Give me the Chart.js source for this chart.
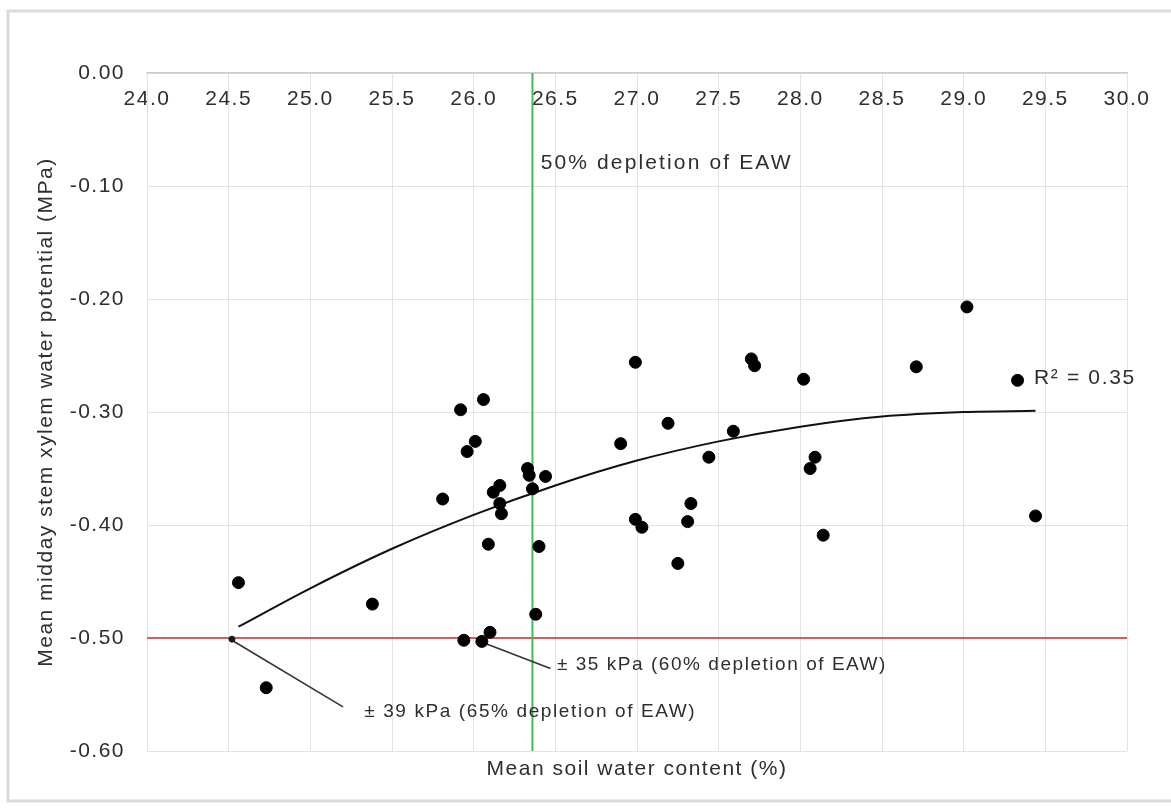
<!DOCTYPE html>
<html><head><meta charset="utf-8">
<script src="https://cdn.jsdelivr.net/npm/chart.js@4/dist/chart.umd.min.js"></script>
<style>html,body{margin:0;padding:0;background:#fff}canvas{display:block}</style>
</head><body>
<canvas id="c" width="1171" height="811"></canvas>
<script>
// ---- data ----
const soilWater = [24.56,24.73,25.38,25.81,25.92,26.06,26.01,25.96,26.33,26.34,26.44,26.36,26.16,26.12,26.16,26.17,26.09,26.40,26.38,26.10,25.94,26.05,26.99,27.19,26.90,27.70,27.72,28.02,27.59,27.44,28.09,28.06,26.99,27.03,27.33,27.31,27.25,28.14,28.71,29.02,29.33,29.44];
const stemPotential = [-0.451,-0.544,-0.470,-0.377,-0.298,-0.289,-0.326,-0.335,-0.350,-0.356,-0.357,-0.368,-0.365,-0.371,-0.381,-0.390,-0.417,-0.419,-0.479,-0.495,-0.502,-0.503,-0.256,-0.310,-0.328,-0.253,-0.259,-0.271,-0.317,-0.340,-0.340,-0.350,-0.395,-0.402,-0.381,-0.397,-0.434,-0.409,-0.260,-0.207,-0.272,-0.392];
const trendX = [24.56,25.0,25.5,26.0,26.5,27.0,27.5,28.0,28.5,29.0,29.44];
const trendY = [-0.490,-0.456,-0.421,-0.391,-0.365,-0.343,-0.326,-0.313,-0.304,-0.300,-0.299];
const eaw50X = 26.36;           // 50% depletion of EAW
const thresholdY = -0.50;       // red threshold line
const anchor39 = [24.52, -0.501];
const leader39 = [[24.52,-0.502],[25.20,-0.561]];
const leader35 = [[26.04,-0.503],[26.47,-0.527]];
const xTickLabels = ['24.0','24.5','25.0','25.5','26.0','26.5','27.0','27.5','28.0','28.5','29.0','29.5','30.0'];
const yTickValues = [-0.6,-0.5,-0.4,-0.3,-0.2,-0.1,0];
const yTickLabels = ['-0.60','-0.50','-0.40','-0.30','-0.20','-0.10','0.00'];
const noteTexts = ['50% depletion of EAW','R\u00B2 = 0.35','\u00B1 35 kPa (60% depletion of EAW)','\u00B1 39 kPa (65% depletion of EAW)'];
const noteX = [26.41, 29.43, 26.51, 25.33];
const noteY = [-0.080, -0.270, -0.524, -0.565];

// ---- styles ----
const txtColor = '#2e2e2e';
const noteStyle = [
  {size:21, width:252},
  {size:21, width:102},
  {size:19, width:330},
  {size:19, width:332}
];
const LS = '1.5px';

const pts = soilWater.map((x,i)=>({x, y: stemPotential[i]}));
const trend = trendX.map((x,i)=>({x, y: trendY[i]}));
const toPts = a => a.map(p=>({x:p[0], y:p[1]}));

const framePlugin = {
  id:'frame',
  beforeInit(chart){ chart.ctx.letterSpacing = LS; },
  beforeLayout(chart){ chart.ctx.letterSpacing = LS; },
  beforeDraw(chart){
    const ctx = chart.ctx;
    ctx.letterSpacing = LS;
    ctx.save();
    ctx.fillStyle = '#fff';
    ctx.fillRect(0,0,chart.width,chart.height);
    ctx.strokeStyle = '#dadada';
    ctx.lineWidth = 3;
    ctx.beginPath();
    ctx.moveTo(chart.width, 11); ctx.lineTo(8, 11); ctx.lineTo(8, 801); ctx.lineTo(chart.width, 801);
    ctx.stroke();
    ctx.restore();
  },
  afterDatasetsDraw(chart){
    const ctx = chart.ctx, xs = chart.scales.x, ys = chart.scales.y;
    noteTexts.forEach((t,i)=>{
      const st = noteStyle[i];
      const px = xs.getPixelForValue(noteX[i]);
      const py = ys.getPixelForValue(noteY[i]);
      ctx.save();
      ctx.letterSpacing = '0px';
      ctx.font = st.size + 'px "Liberation Sans", Arial, sans-serif';
      ctx.fillStyle = txtColor;
      ctx.textBaseline = 'middle';
      ctx.textAlign = 'left';
      const w = ctx.measureText(t).width;
      const extra = (st.width - w) / t.length;
      ctx.letterSpacing = Math.max(0, extra) + 'px';
      ctx.translate(px, py);
      ctx.fillText(t, 0, 0);
      ctx.restore();
    });
  }
};

const font = (s)=>({family:'"Liberation Sans", Arial, sans-serif', size:s});

new Chart(document.getElementById('c'), {
  type: 'scatter',
  data: {
    datasets: [
      {label:'obs', data: pts, xAxisID:'x', yAxisID:'y', order:0,
       backgroundColor:'#000', borderColor:'#000', pointRadius:6, pointHoverRadius:6, showLine:false},
      {label:'anchor', data:[{x:anchor39[0], y:anchor39[1]}], xAxisID:'x', yAxisID:'y', order:1,
       backgroundColor:'#1a1a1a', borderColor:'#1a1a1a', pointRadius:3, showLine:false},
      {label:'trend', data: trend, xAxisID:'x', yAxisID:'y', order:2, showLine:true,
       borderColor:'#111', borderWidth:2, pointRadius:0, cubicInterpolationMode:'monotone', fill:false},
      {label:'lead39', data: toPts(leader39), xAxisID:'x', yAxisID:'y', order:3, showLine:true,
       borderColor:'#333', borderWidth:1.6, pointRadius:0},
      {label:'lead35', data: toPts(leader35), xAxisID:'x', yAxisID:'y', order:3, showLine:true,
       borderColor:'#333', borderWidth:1.6, pointRadius:0},
      {label:'eaw50', data:[{x:eaw50X,y:0},{x:eaw50X,y:-0.6}], xAxisID:'x', yAxisID:'y', order:4, showLine:true,
       borderColor:'#48b65c', borderWidth:2, pointRadius:0},
      {label:'thr', data:[{x:24,y:thresholdY},{x:30,y:thresholdY}], xAxisID:'x', yAxisID:'y', order:5, showLine:true,
       borderColor:'#d95b5b', borderWidth:2, pointRadius:0}
    ]
  },
  options: {
    responsive:false, animation:false, devicePixelRatio:1,
    layout:{padding:{left:10, right:44, top:73, bottom:0}},
    plugins:{legend:{display:false}, tooltip:{enabled:false}},
    scales:{
      x:{type:'linear', position:'top', min:24, max:30,
         afterFit(s){ s.height = 0; },
         grid:{color:'#e3e3e3', drawTicks:false, lineWidth:1},
         border:{color:'#cccccc', width:1.5},
         ticks:{stepSize:0.5, mirror:true, padding:14, autoSkip:false, maxRotation:0, color:txtColor, font:font(21),
                callback:(v,i)=>xTickLabels[i]}},
      x2:{type:'linear', position:'bottom', min:24, max:30,
          afterFit(s){ s.height = 60; },
          grid:{display:false}, border:{display:false},
          ticks:{display:false},
          title:{display:true, text:'Mean soil water content (%)', color:txtColor, font:font(21), padding:{top:0,bottom:29}}},
      y:{type:'linear', position:'left', min:-0.6, max:0,
         afterFit(s){ s.width = 137; },
         grid:{color:'#e3e3e3', drawTicks:false},
         border:{color:'#e3e3e3'},
         ticks:{stepSize:0.1, padding:22, color:txtColor, font:font(21),
                callback:(v)=>{ let k=0,b=1e9; yTickValues.forEach((t,j)=>{ if(Math.abs(t-v)<b){b=Math.abs(t-v);k=j;} }); return yTickLabels[k]; }},
         title:{display:true, text:'Mean midday stem xylem water potential (MPa)', color:txtColor, font:font(21), padding:{top:24,bottom:0}}}
    }
  },
  plugins:[framePlugin]
});
</script>
</body></html>
